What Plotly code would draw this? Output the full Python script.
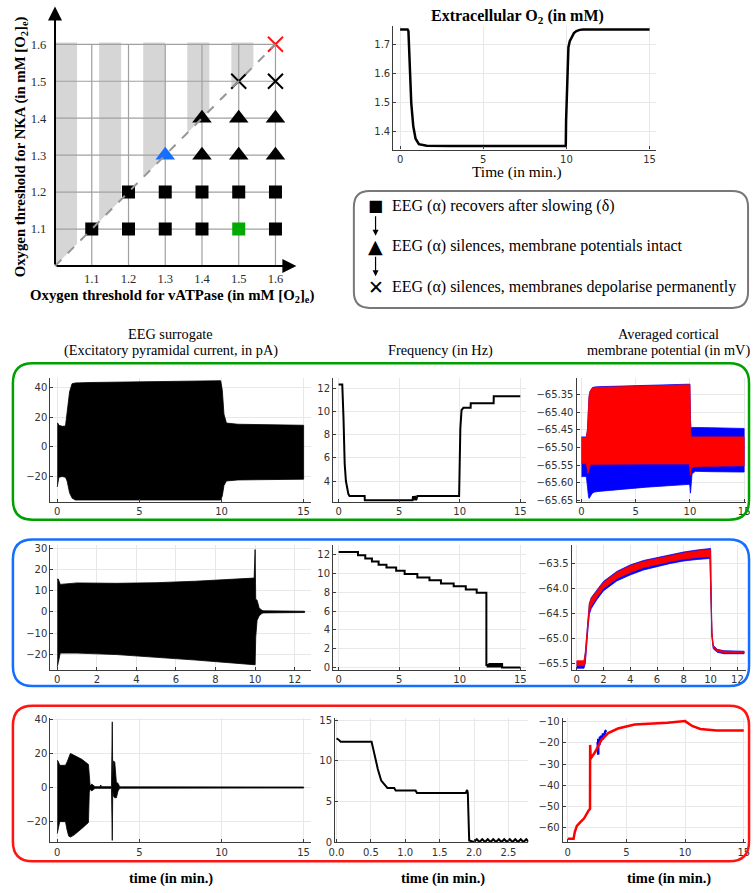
import plotly.graph_objects as go

W, H = 756, 893

# ---------------- threshold map ----------------
map_ticks = [1.1, 1.2, 1.3, 1.4, 1.5, 1.6]
stripe_starts = [1.0, 1.12, 1.24, 1.36, 1.48]
stripe_width = 0.06
stripe_top = 1.605

sq_x = [1.1, 1.2, 1.3, 1.4, 1.6, 1.2, 1.3, 1.4, 1.5, 1.6]
sq_y = [1.1, 1.1, 1.1, 1.1, 1.1, 1.2, 1.2, 1.2, 1.2, 1.2]
sq_green_x = [1.5]
sq_green_y = [1.1]
tri_x = [1.4, 1.5, 1.6, 1.4, 1.5, 1.6]
tri_y = [1.3, 1.3, 1.3, 1.4, 1.4, 1.4]
tri_blue_x = [1.3]
tri_blue_y = [1.3]
cross_x = [1.5, 1.6]
cross_y = [1.5, 1.5]
cross_red_x = [1.6]
cross_red_y = [1.6]

# ---------------- extracellular O2 ----------------
o2_t = [0, 0.45, 0.5, 0.57, 0.67, 0.79, 0.93, 1.13, 1.6, 3, 6, 9.96, 9.98, 10.05, 10.12, 10.2, 10.32, 10.45, 10.6, 10.8, 11, 15]
o2_v = [1.75, 1.75, 1.745, 1.612, 1.499, 1.42, 1.377, 1.358, 1.353, 1.352, 1.352, 1.352, 1.44, 1.62, 1.69, 1.71, 1.725, 1.738, 1.745, 1.749, 1.75, 1.75]

# ---------------- row 1 (recovery) ----------------
eeg1_t = [0, 0.03, 0.1, 0.3, 0.5, 0.6, 0.75, 0.9, 1.1, 2, 5, 9.95, 10.05, 10.15, 10.3, 11, 15]
eeg1_hi = [16, 16, 14.5, 13.8, 14, 22, 37, 42.5, 43, 43.3, 43.8, 44.5, 38, 22, 16, 15.2, 14.5]
eeg1_lo = [-27, -25, -20.5, -20, -20.5, -23, -31, -34.5, -35.8, -36, -36, -35.8, -33, -26, -23, -22.3, -21.8]

f1_t = [0, 0.3, 0.4, 0.5, 0.6, 0.7, 0.8, 0.9, 2.15, 2.16, 6.1, 6.15, 6.2, 6.3, 6.4, 6.5, 6.6, 9.95, 10.05, 10.15, 10.3, 10.9, 10.91, 12.8, 12.81, 15]
f1_v = [12.3, 12.3, 9.5, 5.5, 4.0, 3.3, 2.9, 2.7, 2.7, 2.35, 2.35, 2.7, 2.35, 2.7, 2.35, 2.7, 2.7, 2.7, 8.5, 10.1, 10.3, 10.3, 10.7, 10.7, 11.3, 11.3]

mem1_t = [0, 0.45, 0.55, 0.6, 0.65, 0.7, 0.8, 0.9, 1.0, 1.2, 1.6, 3, 6, 9.95, 10.0, 10.05, 10.1, 10.2, 10.5, 12, 15]
mem1_red_hi = [-65.472, -65.472, -65.45, -65.40, -65.37, -65.355, -65.34, -65.335, -65.332, -65.33, -65.329, -65.328, -65.326, -65.322, -65.322, -65.44, -65.47, -65.47, -65.47, -65.47, -65.47]
mem1_red_lo = [-65.546, -65.546, -65.565, -65.574, -65.57, -65.56, -65.55, -65.548, -65.547, -65.547, -65.547, -65.547, -65.547, -65.547, -65.56, -65.578, -65.565, -65.557, -65.554, -65.553, -65.552]
mem1_blue_hi = [-65.47, -65.47, -65.45, -65.40, -65.37, -65.355, -65.34, -65.335, -65.33, -65.328, -65.327, -65.326, -65.324, -65.32, -65.32, -65.42, -65.445, -65.443, -65.443, -65.444, -65.446]
mem1_blue_lo = [-65.583, -65.583, -65.60, -65.625, -65.64, -65.645, -65.64, -65.635, -65.63, -65.627, -65.625, -65.62, -65.613, -65.605, -65.61, -65.63, -65.6, -65.575, -65.568, -65.569, -65.57]

# ---------------- row 2 (silencing, membranes intact) ----------------
eeg2_t = [0, 0.05, 0.15, 0.5, 1, 3, 5, 7, 9, 9.95, 10.0, 10.03, 10.1, 10.2, 10.3, 10.4, 12.5]
eeg2_hi = [15.5, 15.5, 13, 13.2, 13.7, 13.5, 13.8, 14.5, 15.3, 16, 29.5, 6, 5.5, 2, 1, 0.5, 0.3]
eeg2_lo = [-26, -24, -19.5, -19.3, -19.5, -20.2, -21.5, -22.8, -24.2, -25, -25, -12, -4, -2, -1, -0.5, -0.3]

f2_t = [0, 1.6, 2.2, 2.75, 3.3, 3.95, 4.75, 5.45, 6.5, 7.5, 8.45, 9.5, 10.5, 11.4, 12.2, 12.3, 12.45, 12.6, 12.75, 12.9, 13.05, 13.2, 13.35, 13.5, 15]
f2_v = [12.3, 11.95, 11.6, 11.3, 10.95, 10.65, 10.3, 9.95, 9.6, 9.3, 8.95, 8.65, 8.3, 7.95, 0.25, 0.1, 0.35, 0.1, 0.35, 0.1, 0.35, 0.1, 0.35, 0.0, 0.0]

mem2_t = [0, 0.55, 0.65, 0.75, 0.85, 0.95, 1.1, 1.5, 2, 3, 4, 5, 6, 7, 8, 9, 9.95, 10.0, 10.05, 10.1, 10.2, 10.5, 11, 12.5]
mem2_red_hi = [-65.45, -65.45, -65.3, -64.9, -64.55, -64.32, -64.2, -64.05, -63.88, -63.68, -63.55, -63.46, -63.4, -63.34, -63.29, -63.25, -63.22, -63.22, -64.2, -64.9, -65.15, -65.23, -65.26, -65.27]
mem2_red_lo = [-65.55, -65.55, -65.45, -65.1, -64.75, -64.47, -64.35, -64.18, -64.0, -63.8, -63.68, -63.58, -63.52, -63.46, -63.41, -63.38, -63.36, -63.36, -64.3, -64.95, -65.19, -65.26, -65.29, -65.29]
mem2_blue_hi = [-65.47, -65.47, -65.28, -64.88, -64.53, -64.3, -64.18, -64.03, -63.86, -63.66, -63.53, -63.44, -63.38, -63.32, -63.27, -63.23, -63.2, -63.2, -64.18, -64.88, -65.14, -65.22, -65.25, -65.26]
mem2_blue_lo = [-65.6, -65.6, -65.5, -65.15, -64.8, -64.52, -64.4, -64.23, -64.05, -63.85, -63.73, -63.63, -63.56, -63.5, -63.45, -63.42, -63.4, -63.4, -64.34, -64.98, -65.21, -65.28, -65.31, -65.31]

# ---------------- row 3 (silencing, permanent depolarisation) ----------------
eeg3_t = [0, 0.05, 0.15, 0.5, 0.6, 0.7, 0.8, 1.0, 1.5, 1.9, 1.95, 2.0, 2.1, 2.3, 2.6, 2.65, 2.7, 3.3, 3.35, 3.38, 3.42, 3.5, 3.6, 3.7, 3.8, 3.9, 15]
eeg3_hi = [16, 15.5, 13, 13, 15, 18, 20, 19, 16.5, 13.5, 3, 1, 2, 0.5, 0.5, 1.5, 0.5, 0.5, 38.5, 5, 15.5, 15, 3, 2.5, 0.5, 0.4, 0.3]
eeg3_lo = [-27, -24, -20, -20, -25, -28.5, -29, -28, -24, -20.5, -3, -1, -2, -0.5, -0.5, -0.5, -0.5, -0.5, -31, -2, -5, -6, -6, -2, -0.5, -0.4, -0.3]

f3_t = [0, 0.03, 0.06, 0.51, 0.56, 0.6, 0.65, 0.7, 0.74, 0.84, 0.86, 1.15, 1.17, 1.88, 1.9, 1.91, 1.93, 2.0, 2.04, 2.08, 2.12, 2.16, 2.2, 2.24, 2.28, 2.32, 2.36, 2.4, 2.44, 2.48, 2.52, 2.56, 2.6, 2.64, 2.68, 2.72, 2.76, 2.8]
f3_v = [12.75, 12.6, 12.34, 12.34, 10.5, 9.0, 7.56, 7.03, 6.66, 6.66, 6.33, 6.33, 6.05, 6.05, 6.4, 6.05, 0.2, 0.0, 0.35, 0.0, 0.35, 0.0, 0.35, 0.0, 0.35, 0.0, 0.35, 0.0, 0.35, 0.0, 0.35, 0.0, 0.35, 0.0, 0.35, 0.0, 0.35, 0.0]

mem3_t = [0, 0.5, 0.6, 0.78, 1.0, 1.4, 1.76, 1.9, 1.91, 1.96, 2.0, 2.32, 2.88, 3.45, 4.28, 5.7, 8.5, 10.0, 10.3, 10.6, 11.3, 12.7, 15]
mem3_v = [-65.2, -65.2, -62, -59.1, -57.8, -55.5, -52, -51, -20.9, -27.5, -27, -24.4, -18.5, -15.3, -13.2, -11.3, -10.5, -9.7, -11, -12, -13.4, -14.1, -14.1]
mem3_blue_t = [2.55, 2.6, 2.6, 2.7, 2.75, 2.8, 2.85, 2.95, 3.0, 3.1, 3.2, 3.3]
mem3_blue_v = [-19.5, -25.5, -18, -21, -17, -19.5, -16.5, -18.5, -15.5, -17, -14.5, -14]

# ---------------- axis ticks ----------------
t15_ticks = [0, 5, 10, 15]
t12_ticks = [0, 2, 4, 6, 8, 10, 12]
o2_yticks = [1.4, 1.5, 1.6, 1.7]
eeg1_yticks = [-20, 0, 20, 40]
eeg2_yticks = [-20, -10, 0, 10, 20, 30]
eeg3_yticks = [-20, 0, 20, 40]
f1_yticks = [4, 6, 8, 10, 12]
f2_yticks = [0, 2, 4, 6, 8, 10, 12]
f3_yticks = [0, 5, 10, 15]
f3_xticks = [0.0, 0.5, 1.0, 1.5, 2.0, 2.5]
mem1_yticks = [-65.65, -65.60, -65.55, -65.50, -65.45, -65.40, -65.35]
mem2_yticks = [-65.5, -65.0, -64.5, -64.0, -63.5]
mem3_yticks = [-60, -50, -40, -30, -20, -10]

SERIF = "Liberation Serif"
SANS = "DejaVu Sans"
GREEN = "rgb(0,160,0)"
BLUE = "rgb(20,110,255)"
RED = "rgb(255,20,20)"


def hx(p):
    return p / W


def vy(p):
    return 1 - p / H


fig = go.Figure()
layout = {}
shapes = []
annotations = []


def note(x, y, text, font, xanchor="center", yanchor="middle", **kw):
    annotations.append(dict(xref="paper", yref="paper", x=hx(x), y=vy(y), text=text,
                            showarrow=False, font=font, xanchor=xanchor, yanchor=yanchor, **kw))


def band(t, hi, lo, color, axis_id, lw=0.8):
    fig.add_trace(go.Scatter(
        x=list(t) + list(t)[::-1], y=list(hi) + list(lo)[::-1],
        fill="toself", fillcolor=color, mode="lines",
        line=dict(color=color, width=lw),
        xaxis="x" + axis_id, yaxis="y" + axis_id, hoverinfo="skip"))


def line(t, v, color, axis_id, width=2, shape="linear"):
    fig.add_trace(go.Scatter(
        x=t, y=v, mode="lines", line=dict(color=color, width=width, shape=shape),
        xaxis="x" + axis_id, yaxis="y" + axis_id, hoverinfo="skip"))


def std_axes(n, xdom, ydom, xr, yr, xt, yt, xfmt=None, yfmt=None):
    common = dict(showgrid=True, gridcolor="rgb(232,232,232)", gridwidth=1,
                  zeroline=False, showline=True, linecolor="rgb(60,60,60)", linewidth=1.2,
                  ticks="inside", ticklen=3, tickcolor="rgb(60,60,60)",
                  tickfont=dict(family=SANS, size=10, color="rgb(50,50,50)"),
                  mirror=False, fixedrange=True)
    xa = dict(common, domain=[hx(xdom[0]), hx(xdom[1])], range=xr, tickvals=xt,
              anchor="y" + n)
    ya = dict(common, domain=[vy(ydom[1]), vy(ydom[0])], range=yr, tickvals=yt,
              anchor="x" + n)
    if xfmt:
        xa["tickformat"] = xfmt
    if yfmt:
        ya["tickformat"] = yfmt
    layout["xaxis" + n] = xa
    layout["yaxis" + n] = ya


# ---------------- threshold map ----------------
for a in stripe_starts:
    b = a + stripe_width
    shapes.append(dict(type="path", xref="x", yref="y", layer="below",
                       path=f"M {a},{a} L {b},{b} L {b},{stripe_top} L {a},{stripe_top} Z",
                       fillcolor="rgb(214,214,214)", line=dict(width=0)))
for v in map_ticks:
    shapes.append(dict(type="line", xref="x", yref="y", layer="below",
                       x0=v, x1=v, y0=1.0, y1=map_ticks[-1],
                       line=dict(color="rgb(160,160,160)", width=1.2)))
    shapes.append(dict(type="line", xref="x", yref="y", layer="below",
                       x0=1.0, x1=map_ticks[-1], y0=v, y1=v,
                       line=dict(color="rgb(160,160,160)", width=1.2)))
shapes.append(dict(type="line", xref="x", yref="y", x0=1.0, y0=1.0,
                   x1=map_ticks[-1], y1=map_ticks[-1],
                   line=dict(color="rgb(150,150,150)", width=2, dash="dash")))

map_xaxis = dict(domain=[hx(45.0), hx(294.8)], range=[0.99, 1.66], tickvals=map_ticks,
                 ticktext=[f"{v:.1f}" for v in map_ticks], showgrid=False, zeroline=False,
                 showline=False, ticks="", anchor="y",
                 tickfont=dict(family=SERIF, size=12.5, color="rgb(40,40,40)"), fixedrange=True)
map_yaxis = dict(domain=[vy(268.4), vy(1.5)], range=[0.99, 1.705], tickvals=map_ticks,
                 ticktext=[f"{v:.1f}" for v in map_ticks], showgrid=False, zeroline=False,
                 showline=False, ticks="", anchor="x", ticklabelstandoff=4,
                 tickfont=dict(family=SERIF, size=12.5, color="rgb(40,40,40)"), fixedrange=True)
layout["xaxis"] = map_xaxis
layout["yaxis"] = map_yaxis


def markers(xs, ys, symbol, color, size, lw=0):
    fig.add_trace(go.Scatter(x=xs, y=ys, mode="markers", xaxis="x", yaxis="y",
                             marker=dict(symbol=symbol, color=color, size=size,
                                         line=dict(color=color, width=lw)),
                             hoverinfo="skip"))


markers(sq_x, sq_y, "square", "black", 13)
markers(sq_green_x, sq_green_y, "square", "rgb(0,170,0)", 13)
markers(tri_x, tri_y, "triangle-up", "black", 17)
markers(tri_blue_x, tri_blue_y, "triangle-up", BLUE, 17)
markers(cross_x, cross_y, "x-thin", "black", 15, 2)
markers(cross_red_x, cross_red_y, "x-thin", RED, 15, 2)

# axis arrows of the map
annotations.append(dict(xref="x", yref="y", axref="x", ayref="y", x=1.657, y=1.0, ax=1.0, ay=1.0,
                        text="", showarrow=True, arrowhead=2, arrowsize=1.4, arrowwidth=2,
                        arrowcolor="black", standoff=0))
annotations.append(dict(xref="x", yref="y", axref="x", ayref="y", x=1.0, y=1.702, ax=1.0, ay=1.0,
                        text="", showarrow=True, arrowhead=2, arrowsize=1.4, arrowwidth=2,
                        arrowcolor="black", standoff=0))
note(167, 295, "<b>Oxygen threshold for vATPase (in mM [O<sub>2</sub>]<sub>e</sub>)</b>",
     dict(family=SERIF, size=14.8, color="black"))
note(14, 144, "<b>Oxygen threshold for NKA (in mM [O<sub>2</sub>]<sub>e</sub>)</b>",
     dict(family=SERIF, size=14.8, color="black"), textangle=-90)

# ---------------- extracellular O2 ----------------
std_axes("2", (392, 659), (22, 147), [-0.41, 15.41], [1.34, 1.763], t15_ticks, o2_yticks, yfmt=".1f")
line(o2_t, o2_v, "black", "2", width=2.5)
note(518, 13, "<b>Extracellular O<sub>2</sub> (in mM)</b>", dict(family=SERIF, size=16, color="black"))
note(518, 170, "Time (in min.)", dict(family=SERIF, size=15.4, color="black"))

# ---------------- outcome legend ----------------
legend_rows = [
    ("■", 204, 16, "EEG (α) recovers after slowing (δ)"),
    ("▲", 244, 19, "EEG (α) silences, membrane potentials intact"),
    ("✕", 286, 19, "EEG (α) silences, membranes depolarise permanently"),
]
for sym, ypix, ssize, txt in legend_rows:
    note(374, ypix, sym, dict(family=SANS, size=ssize, color="black"))
    note(389, ypix, txt, dict(family=SERIF, size=16, color="black"), xanchor="left")
for y0, y1 in [(213, 234), (254, 275)]:
    annotations.append(dict(xref="paper", yref="paper", x=hx(374), y=vy(y1), ax=0, ay=-(y1 - y0),
                            text="", showarrow=True, arrowhead=2, arrowsize=1, arrowwidth=1.2,
                            arrowcolor="black", standoff=0))


def rounded_box(x0, y0, x1, y1, r, color, width):
    rx, ry = r / W, r / H
    X0, X1, Y0, Y1 = hx(x0), hx(x1), vy(y0), vy(y1)
    path = (f"M {X0 + rx},{Y0} L {X1 - rx},{Y0} Q {X1},{Y0} {X1},{Y0 - ry} "
            f"L {X1},{Y1 + ry} Q {X1},{Y1} {X1 - rx},{Y1} L {X0 + rx},{Y1} "
            f"Q {X0},{Y1} {X0},{Y1 + ry} L {X0},{Y0 - ry} Q {X0},{Y0} {X0 + rx},{Y0} Z")
    shapes.append(dict(type="path", xref="paper", yref="paper", path=path,
                       line=dict(color=color, width=width)))


rounded_box(352, 189, 752, 307, 16, "rgb(120,120,120)", 2)
rounded_box(6, 363, 753, 521, 20, GREEN, 2.5)
rounded_box(6, 541, 753, 689, 20, BLUE, 2.5)
rounded_box(6, 709, 753, 866, 20, RED, 2.5)

# ---------------- column headings ----------------
head_font = dict(family=SERIF, size=14.3, color="black")
for x, y, txt in [(166, 333, "EEG surrogate"),
                  (166, 350, "(Excitatory pyramidal current, in pA)"),
                  (440, 350, "Frequency (in Hz)"),
                  (671, 333, "Averaged cortical"),
                  (671, 350, "membrane potential (in mV)")]:
    note(x, y, txt, head_font)
for x in (166, 442, 672):
    note(x, 883, "<b>time (in min.)</b>", dict(family=SERIF, size=14.5, color="black"))

# ---------------- row 1 ----------------
std_axes("3", (44, 308), (378, 503), [-0.42, 15.42], [-37.1, 46.2], t15_ticks, eeg1_yticks)
band(eeg1_t, eeg1_hi, eeg1_lo, "black", "3")
std_axes("4", (331, 527), (378, 503), [-0.45, 15.5], [2.2, 12.85], t15_ticks, f1_yticks)
line(f1_t, f1_v, "black", "4", width=2)
std_axes("5", (578, 750), (378, 503), [-0.45, 15.18], [-65.655, -65.303], t15_ticks, mem1_yticks,
         yfmt=".2f")
band(mem1_t, mem1_blue_hi, mem1_blue_lo, "rgb(0,0,255)", "5")
band(mem1_t, mem1_red_hi, mem1_red_lo, "rgb(255,0,0)", "5")

# ---------------- row 2 ----------------
std_axes("6", (44, 308), (547, 673), [-0.35, 12.8], [-27.6, 31.4], t12_ticks, eeg2_yticks)
band(eeg2_t, eeg2_hi, eeg2_lo, "black", "6")
std_axes("7", (331, 527), (547, 673), [-0.45, 15.5], [-0.3, 13.0], t15_ticks, f2_yticks)
line(f2_t, f2_v, "black", "7", width=2, shape="hv")
std_axes("8", (573, 750), (547, 673), [-0.37, 12.65], [-65.64, -63.14], t12_ticks, mem2_yticks,
         yfmt=".1f")
band(mem2_t, mem2_blue_hi, mem2_blue_lo, "rgb(0,0,255)", "8")
band(mem2_t, mem2_red_hi, mem2_red_lo, "rgb(255,0,0)", "8")

# ---------------- row 3 ----------------
std_axes("9", (44, 308), (721, 847), [-0.42, 15.42], [-32.2, 40.9], t15_ticks, eeg3_yticks)
band(eeg3_t, eeg3_hi, eeg3_lo, "black", "9")
std_axes("10", (333, 529), (721, 847), [-0.02, 2.79], [-0.05, 15.3], f3_xticks, f3_yticks,
         xfmt=".1f")
line(f3_t, f3_v, "black", "10", width=2)
std_axes("11", (564, 750), (721, 847), [-0.42, 15.2], [-66.9, -8.1], t15_ticks, mem3_yticks)
line(mem3_blue_t, mem3_blue_v, "rgb(0,0,255)", "11", width=2.5)
line(mem3_t, mem3_v, "rgb(255,0,0)", "11", width=2.5)

fig.update_layout(
    width=W, height=H, margin=dict(l=0, r=0, t=0, b=0),
    paper_bgcolor="white", plot_bgcolor="white", showlegend=False,
    shapes=shapes, annotations=annotations, **layout)

# the page body keeps no default margin so the figure sits at the top-left corner
fig.write_html("out.html", config={"displayModeBar": False},
               post_script="document.body.style.margin='0';")
